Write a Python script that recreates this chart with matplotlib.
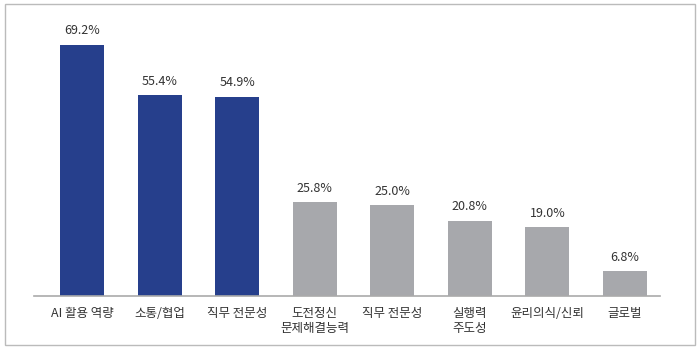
import matplotlib
matplotlib.use('Agg')
import matplotlib.pyplot as plt
from matplotlib.patches import Rectangle

plt.rcParams['font.family'] = ['Noto Sans CJK KR', 'DejaVu Sans']

# =========================
# DATA
# =========================
categories = ['AI 활용 역량', '소통/협업', '직무 전문성', '도전정신\n문제해결능력',
              '직무 전문성', '실행력\n주도성', '윤리의식/신뢰', '글로벌']
values = [69.2, 55.4, 54.9, 25.8, 25.0, 20.8, 19.0, 6.8]
highlight = [True, True, True, False, False, False, False, False]

blue = '#263f8c'
gray = '#a7a8ac'
colors = [blue if h else gray for h in highlight]

# =========================
# CHART
# =========================
fig = plt.figure(figsize=(7, 3.52), dpi=100)
ax = fig.add_axes([0.0486, 0.159, 0.894, 0.784])

x = list(range(len(values)))
bars = ax.bar(x, values, width=0.567, color=colors)

for xi, v in zip(x, values):
    ax.text(xi, v + 2.0, f'{v:.1f}%', ha='center', va='bottom', fontsize=9, color='#333333')

ax.set_xlim(-0.62, 7.45)
ax.set_ylim(0, 76)
ax.set_xticks(x)
ax.set_xticklabels(categories, fontsize=9, color='#333333', linespacing=1.2)
ax.tick_params(axis='x', length=0, pad=8)
ax.set_yticks([])

for s in ['top', 'right', 'left']:
    ax.spines[s].set_visible(False)
ax.spines['bottom'].set_color('#aaaaaa')
ax.spines['bottom'].set_linewidth(1.2)

# outer border
fig.patches.append(Rectangle((5 / 700, 7 / 352), 690 / 700, 341 / 352,
                             transform=fig.transFigure, fill=False,
                             edgecolor='#bbbbbb', linewidth=1))

fig.savefig('out.png', dpi=100)
